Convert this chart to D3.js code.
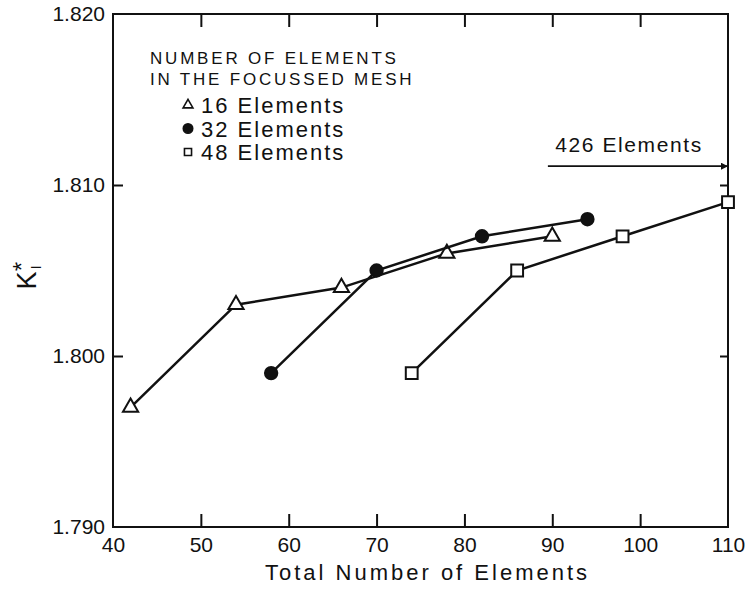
<!DOCTYPE html>
<html>
<head>
<meta charset="utf-8">
<script src="https://cdn.jsdelivr.net/npm/d3@7"></script>
<style>
  body { margin: 0; background: #fff; }
  text { font-family: "Liberation Sans", Arial, sans-serif; fill: #111; }
</style>
</head>
<body>
<div id="chart"></div>
<script>
// data
const total16 = [42, 54, 66, 78, 90]
const k16 = [1.797, 1.803, 1.804, 1.806, 1.807]
const total32 = [58, 70, 82, 94]
const k32 = [1.799, 1.805, 1.807, 1.808]
const total48 = [74, 86, 98, 110]
const k48 = [1.799, 1.805, 1.807, 1.809]

const xTicks = [40, 50, 60, 70, 80, 90, 100, 110]
const yTicks = [1.790, 1.800, 1.810, 1.820]
const legendTitle = ['NUMBER OF ELEMENTS', 'IN THE FOCUSSED MESH']
const legendLabels = ['16 Elements', '32 Elements', '48 Elements']
const arrowLabel = '426 Elements'
const arrowFrom = 89.5  // x value where the arrow starts
const arrowAt = 1.8111

// canvas
const width = 746,
  height = 590
const margin = { top: 14, right: 18, bottom: 63, left: 113 }

let svg = d3.select('#chart')
  .append('svg')
  .attr('width', width)
  .attr('height', height)

const x = d3.scaleLinear().domain([40, 110]).range([margin.left, width - margin.right])
const y = d3.scaleLinear().domain([1.790, 1.820]).range([height - margin.bottom, margin.top])

const ink = '#111'

// frame
svg.append('rect')
  .attr('x', x(40)).attr('y', y(1.820))
  .attr('width', x(110) - x(40)).attr('height', y(1.790) - y(1.820))
  .attr('fill', 'none').attr('stroke', ink).attr('stroke-width', 2)

// axes, ticks inside
const inner = xTicks.slice(1, -1)
svg.append('g')
  .attr('transform', 'translate(0,' + y(1.790) + ')')
  .call(d3.axisBottom(x).tickValues(xTicks).tickSize(0).tickPadding(10).tickFormat(d3.format('d')))
  .call(g => g.select('.domain').remove())
  .call(g => g.selectAll('text').attr('font-size', 21).attr('fill', ink))
svg.append('g')
  .attr('transform', 'translate(0,' + y(1.790) + ')')
  .call(d3.axisTop(x).tickValues(inner).tickSize(13).tickFormat(''))
  .call(g => g.select('.domain').remove())
  .call(g => g.selectAll('line').attr('stroke', ink).attr('stroke-width', 2))
svg.append('g')
  .attr('transform', 'translate(0,' + y(1.820) + ')')
  .call(d3.axisBottom(x).tickValues(inner).tickSize(13).tickFormat(''))
  .call(g => g.select('.domain').remove())
  .call(g => g.selectAll('line').attr('stroke', ink).attr('stroke-width', 2))

svg.append('g')
  .attr('transform', 'translate(' + x(40) + ',0)')
  .call(d3.axisRight(y).tickValues(yTicks.slice(1, -1)).tickSize(10).tickFormat(''))
  .call(g => g.select('.domain').remove())
  .call(g => g.selectAll('line').attr('stroke', ink).attr('stroke-width', 2))
svg.append('g')
  .attr('transform', 'translate(' + x(40) + ',0)')
  .call(d3.axisLeft(y).tickValues(yTicks).tickSize(0).tickPadding(8).tickFormat(d3.format('.3f')))
  .call(g => g.select('.domain').remove())
  .call(g => g.selectAll('text').attr('font-size', 21).attr('fill', ink))
svg.append('g')
  .attr('transform', 'translate(' + x(110) + ',0)')
  .call(d3.axisLeft(y).tickValues(yTicks.slice(1, -1)).tickSize(8).tickFormat(''))
  .call(g => g.select('.domain').remove())
  .call(g => g.selectAll('line').attr('stroke', ink).attr('stroke-width', 2))

// axis titles
svg.append('text')
  .attr('x', (x(40) + x(110)) / 2 + 7)
  .attr('y', height - 10)
  .attr('text-anchor', 'middle')
  .attr('font-size', 22)
  .attr('letter-spacing', 3)
  .text('Total Number of Elements')

const ylab = svg.append('text')
  .attr('transform', 'translate(36,' + (y(1.805) + 19) + ') rotate(-90)')
  .attr('font-size', 27)
  .attr('letter-spacing', 2)
ylab.append('tspan').text('K')
ylab.append('tspan').attr('font-size', 15).attr('dy', 5).text('I')
ylab.append('tspan').attr('font-size', 24).attr('dx', -8).attr('dy', -11).text('*')

// series
const symbols = [d3.symbolTriangle, d3.symbolCircle, d3.symbolSquare]
const series = [
  { xs: total16, ys: k16, sym: 0, fill: '#fff' },
  { xs: total32, ys: k32, sym: 1, fill: ink },
  { xs: total48, ys: k48, sym: 2, fill: '#fff' }
]
const line = d3.line().x(d => x(d[0])).y(d => y(d[1]))

series.forEach(s => {
  const pts = s.xs.map((v, i) => [v, s.ys[i]])
  svg.append('path')
    .attr('d', line(pts))
    .attr('fill', 'none').attr('stroke', ink).attr('stroke-width', 2.5)
  svg.selectAll(null)
    .data(pts)
    .enter()
    .append('path')
    .attr('transform', d => 'translate(' + x(d[0]) + ',' + y(d[1]) + ')')
    .attr('d', d3.symbol().type(symbols[s.sym]).size(s.sym === 1 ? 120 : (s.sym === 2 ? 140 : 100)))
    .attr('fill', s.fill).attr('stroke', ink).attr('stroke-width', 2)
})

// legend
const lg = svg.append('g').attr('transform', 'translate(150,64)')
legendTitle.forEach((t, i) => {
  lg.append('text').attr('x', 0).attr('y', i * 21)
    .attr('font-size', 17).attr('letter-spacing', 2.8).text(t)
})
legendLabels.forEach((t, i) => {
  const row = lg.append('g').attr('transform', 'translate(41,' + (49 + i * 23.5) + ')')
  row.append('path')
    .attr('transform', 'translate(-3,-8)')
    .attr('d', d3.symbol().type(symbols[i]).size(i === 1 ? 70 : (i === 2 ? 50 : 42)))
    .attr('fill', i === 1 ? ink : '#fff').attr('stroke', ink).attr('stroke-width', 1.6)
  row.append('text').attr('x', 10).attr('y', 0)
    .attr('font-size', 22).attr('letter-spacing', 2).text(t)
})

// arrow to 426 elements
svg.append('defs').append('marker')
  .attr('id', 'head').attr('viewBox', '0 0 10 10')
  .attr('refX', 10).attr('refY', 5)
  .attr('markerWidth', 13).attr('markerHeight', 7)
  .attr('markerUnits', 'userSpaceOnUse')
  .attr('orient', 'auto')
  .append('path').attr('d', 'M0,0L10,5L0,10Z').attr('fill', ink)
svg.append('line')
  .attr('x1', x(arrowFrom)).attr('x2', x(110))
  .attr('y1', y(arrowAt)).attr('y2', y(arrowAt))
  .attr('stroke', ink).attr('stroke-width', 1.8)
  .attr('marker-end', 'url(#head)')
svg.append('text')
  .attr('x', 629).attr('y', y(arrowAt) - 14)
  .attr('text-anchor', 'middle')
  .attr('font-size', 21).attr('letter-spacing', 1.6)
  .text(arrowLabel)
</script>
</body>
</html>
